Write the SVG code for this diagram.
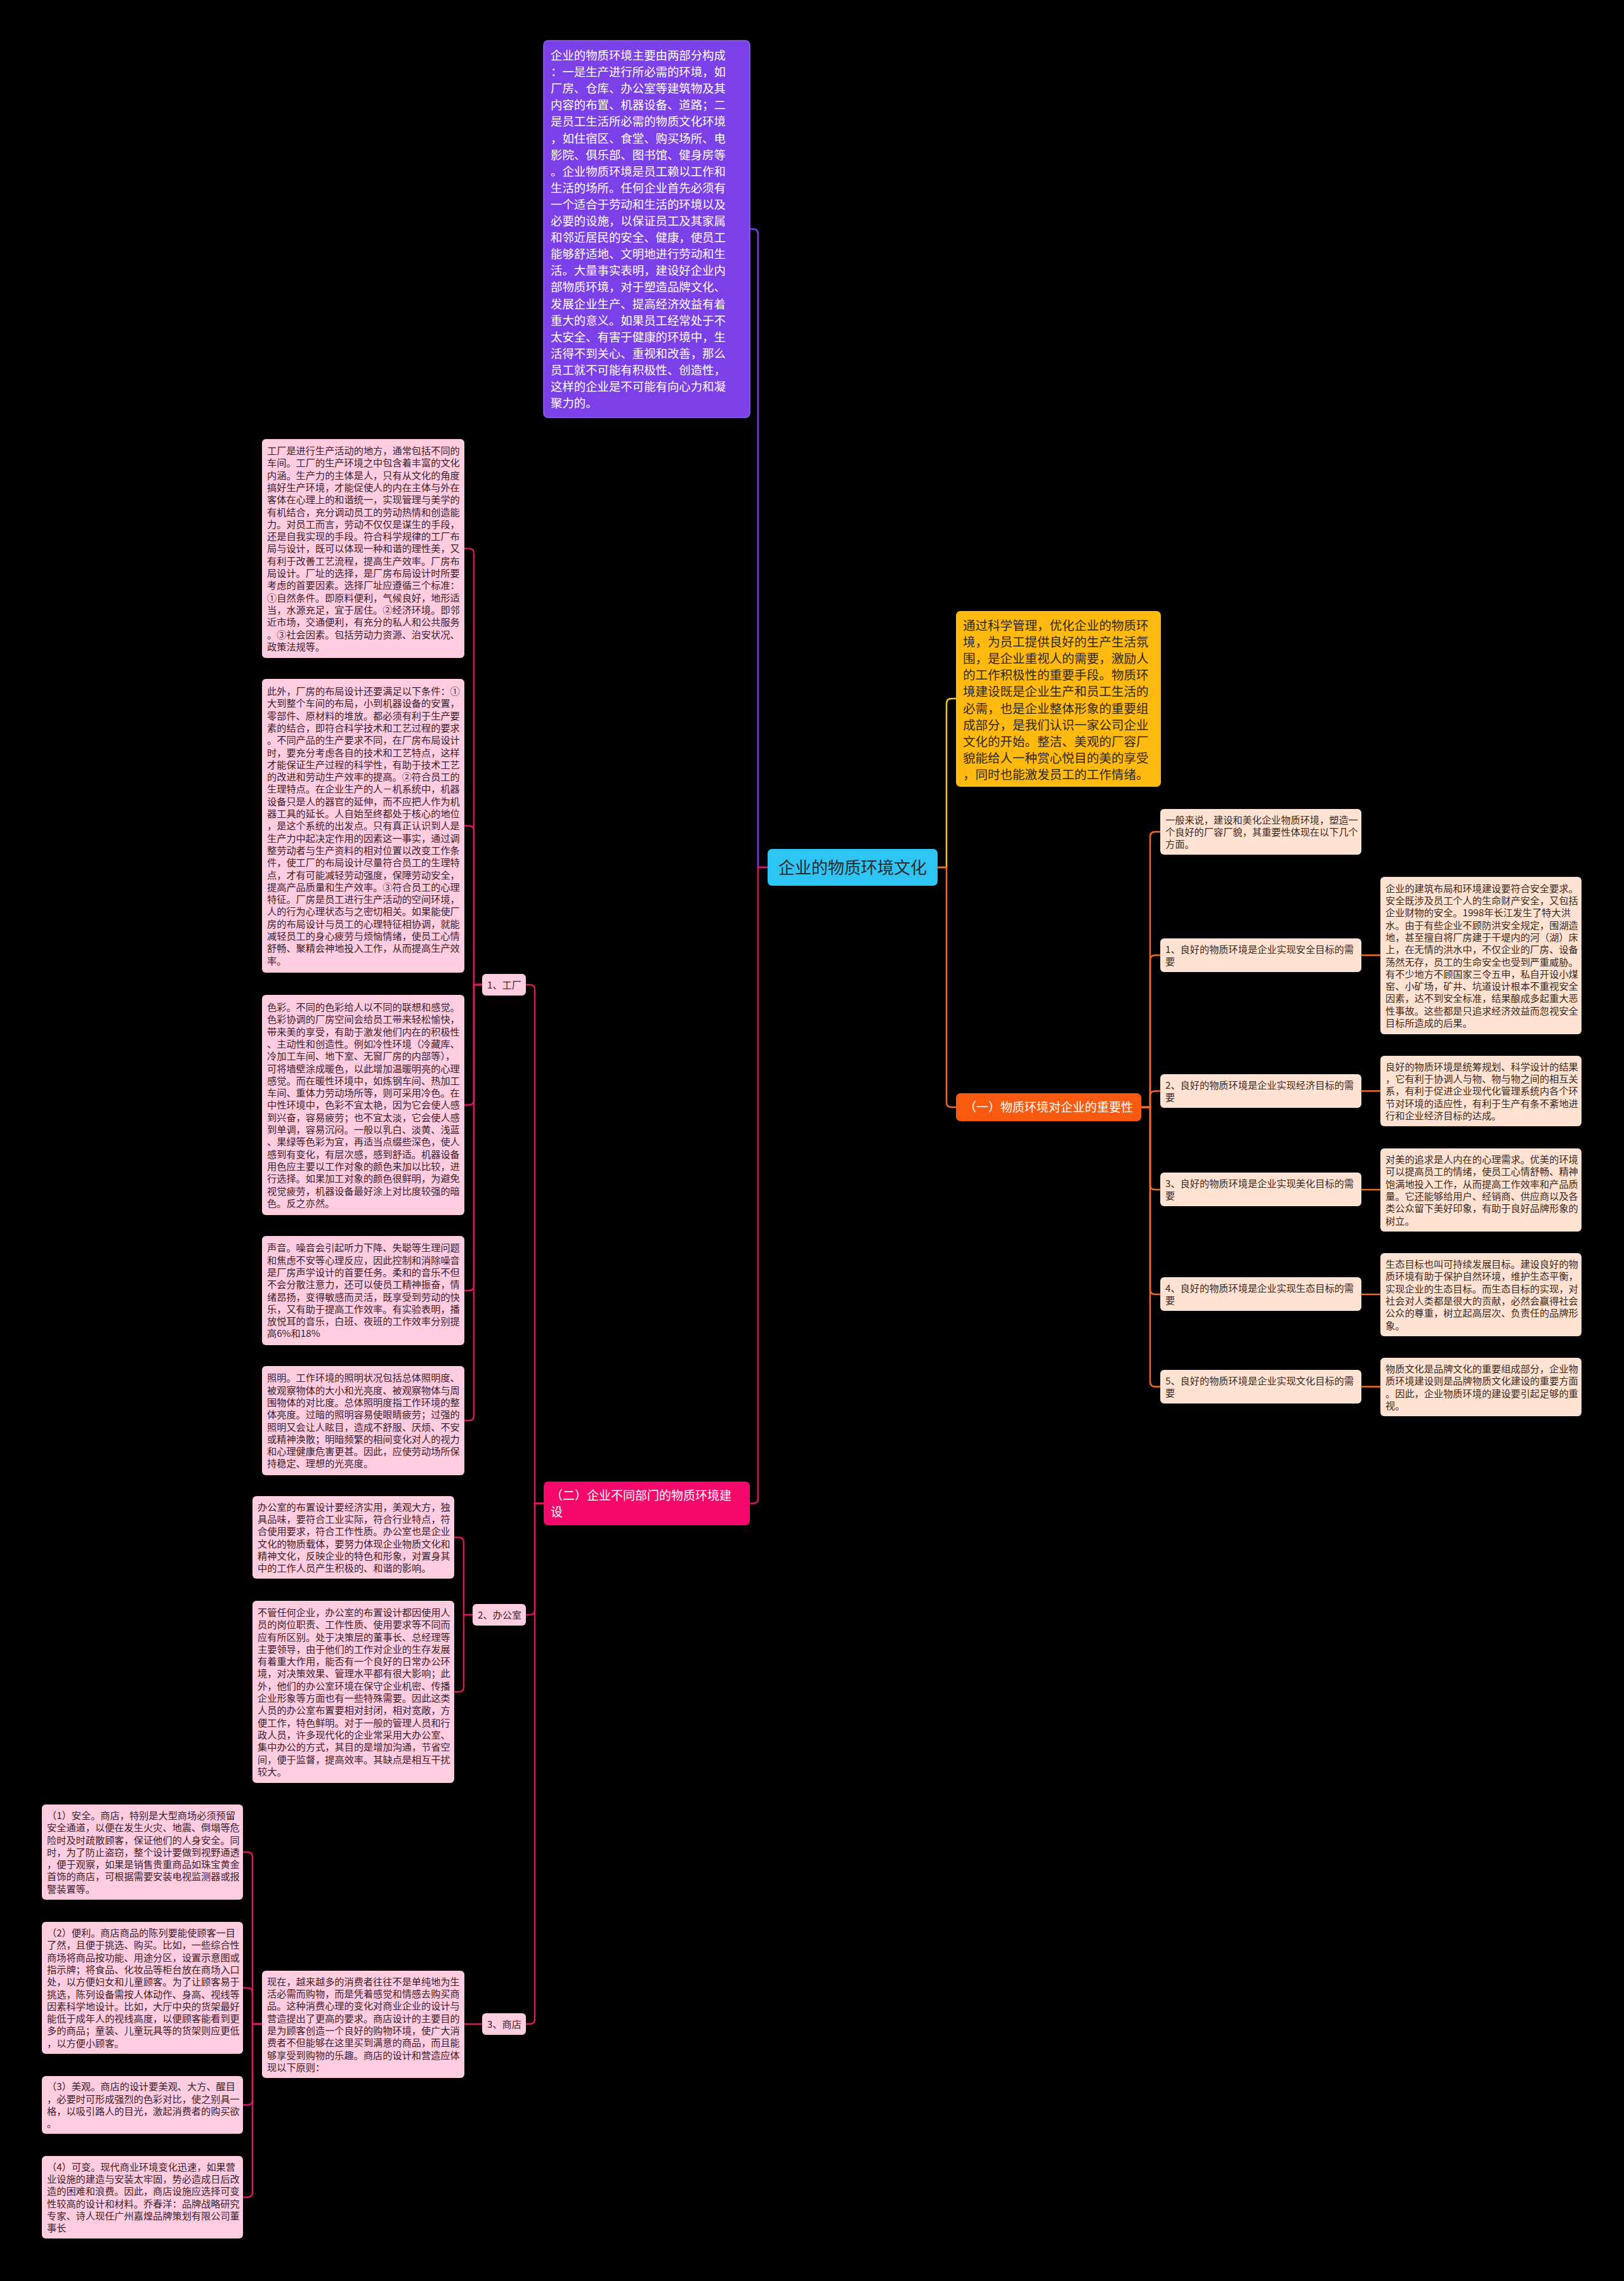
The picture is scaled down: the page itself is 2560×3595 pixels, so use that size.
<svg xmlns="http://www.w3.org/2000/svg" width="2560" height="3595" viewBox="0 0 2560 3595">
<style>
text{font-family:"Noto Sans CJK SC","Noto Sans",sans-serif;}
.c{fill:none;stroke-width:2.5;}
.cp{stroke:#7B40E8;}
.ck{stroke:#D6185F;}
.cy{stroke:#F2C232;}
.co{stroke:#F06A28;}
.lk{fill:#FFCCE0;}
.lo{fill:#FFE2D2;}
.tk{fill:#3A1E2B;font-size:15.2px;}
.to{fill:#3B2A20;font-size:15.2px;}
</style>
<rect x="0" y="0" width="2560" height="3595" fill="#000000"/>
<g id="connectors">
<path class="c cy" d="M1478,1367 H1492 V1109 Q1492,1101 1500,1101 H1507"/>
<path class="c co" d="M1478,1367 H1492 V1737 Q1492,1745 1500,1745 H1507"/>
<path class="c co" d="M1799,1745 H1813 V1319 Q1813,1311 1821,1311 H1829"/>
<path class="c co" d="M1799,1745 H1813 V1513.5 Q1813,1505.5 1821,1505.5 H1829"/>
<path class="c co" d="M1799,1745 H1813 V1727.5 Q1813,1719.5 1821,1719.5 H1829"/>
<path class="c co" d="M1799,1745 H1813 V1867 Q1813,1875 1821,1875 H1829"/>
<path class="c co" d="M1799,1745 H1813 V2032 Q1813,2040 1821,2040 H1829"/>
<path class="c co" d="M1799,1745 H1813 V2177.5 Q1813,2185.5 1821,2185.5 H1829"/>
<path class="c co" d="M2146,1505.5 H2176"/>
<path class="c co" d="M2146,1719.5 H2176"/>
<path class="c co" d="M2146,1875 H2176"/>
<path class="c co" d="M2146,2040 H2176"/>
<path class="c co" d="M2146,2185.5 H2176"/>
<path class="c cp" d="M1210,1367 H1195 V369 Q1195,361 1187,361 H1182"/>
<path class="c ck" d="M1210,1367 H1195 V2361.5 Q1195,2369.5 1187,2369.5 H1182"/>
<path class="c ck" d="M857,2369.5 H843 V1560 Q843,1552 835,1552 H829"/>
<path class="c ck" d="M857,2369.5 H843 V2537 Q843,2545 835,2545 H829"/>
<path class="c ck" d="M857,2369.5 H843 V3182 Q843,3190 835,3190 H829"/>
<path class="c ck" d="M760,1552 H747 V872.5 Q747,864.5 739,864.5 H732"/>
<path class="c ck" d="M760,1552 H747 V1309.5 Q747,1301.5 739,1301.5 H732"/>
<path class="c ck" d="M760,1552 H747 V1733.5 Q747,1741.5 739,1741.5 H732"/>
<path class="c ck" d="M760,1552 H747 V2026 Q747,2034 739,2034 H732"/>
<path class="c ck" d="M760,1552 H747 V2231 Q747,2239 739,2239 H732"/>
<path class="c ck" d="M745,2545 H731 V2431 Q731,2423 723,2423 H716"/>
<path class="c ck" d="M745,2545 H731 V2658.5 Q731,2666.5 723,2666.5 H716"/>
<path class="c ck" d="M760,3190 H732"/>
<path class="c ck" d="M413,3190 H398 V2927 Q398,2919 390,2919 H383"/>
<path class="c ck" d="M413,3190 H398 V3141 Q398,3133 390,3133 H383"/>
<path class="c ck" d="M413,3190 H398 V3309.5 Q398,3317.5 390,3317.5 H383"/>
<path class="c ck" d="M413,3190 H398 V3455 Q398,3463 390,3463 H383"/>
</g>
<g id="root">
<rect x="1210" y="1338" width="268" height="58" rx="7" fill="#2EC4F4"/>
<text x="1344" y="1377" font-size="26" fill="#2B2B2B" text-anchor="middle">企业的物质环境文化</text>
</g>
<g id="intro">
<rect x="857" y="64" width="325" height="594" rx="7" fill="#7B40E8" stroke="#9466F0" stroke-width="1.5"/>
<text x="868" y="94" font-size="18.4" fill="#FFFFFF"><tspan x="868">企业的物质环境主要由两部分构成</tspan><tspan x="868" dy="26.1">：一是生产进行所必需的环境，如</tspan><tspan x="868" dy="26.1">厂房、仓库、办公室等建筑物及其</tspan><tspan x="868" dy="26.1">内容的布置、机器设备、道路；二</tspan><tspan x="868" dy="26.1">是员工生活所必需的物质文化环境</tspan><tspan x="868" dy="26.1">，如住宿区、食堂、购买场所、电</tspan><tspan x="868" dy="26.1">影院、俱乐部、图书馆、健身房等</tspan><tspan x="868" dy="26.1">。企业物质环境是员工赖以工作和</tspan><tspan x="868" dy="26.1">生活的场所。任何企业首先必须有</tspan><tspan x="868" dy="26.1">一个适合于劳动和生活的环境以及</tspan><tspan x="868" dy="26.1">必要的设施，以保证员工及其家属</tspan><tspan x="868" dy="26.1">和邻近居民的安全、健康，使员工</tspan><tspan x="868" dy="26.1">能够舒适地、文明地进行劳动和生</tspan><tspan x="868" dy="26.1">活。大量事实表明，建设好企业内</tspan><tspan x="868" dy="26.1">部物质环境，对于塑造品牌文化、</tspan><tspan x="868" dy="26.1">发展企业生产、提高经济效益有着</tspan><tspan x="868" dy="26.1">重大的意义。如果员工经常处于不</tspan><tspan x="868" dy="26.1">太安全、有害于健康的环境中，生</tspan><tspan x="868" dy="26.1">活得不到关心、重视和改善，那么</tspan><tspan x="868" dy="26.1">员工就不可能有积极性、创造性，</tspan><tspan x="868" dy="26.1">这样的企业是不可能有向心力和凝</tspan><tspan x="868" dy="26.1">聚力的。</tspan></text>
</g>
<g id="summary">
<rect x="1507" y="963" width="323" height="277" rx="7" fill="#FFB90F"/>
<text x="1518" y="993" font-size="19.5" fill="#2E2A20"><tspan x="1518">通过科学管理，优化企业的物质环</tspan><tspan x="1518" dy="26.1">境，为员工提供良好的生产生活氛</tspan><tspan x="1518" dy="26.1">围，是企业重视人的需要，激励人</tspan><tspan x="1518" dy="26.1">的工作积极性的重要手段。物质环</tspan><tspan x="1518" dy="26.1">境建设既是企业生产和员工生活的</tspan><tspan x="1518" dy="26.1">必需，也是企业整体形象的重要组</tspan><tspan x="1518" dy="26.1">成部分，是我们认识一家公司企业</tspan><tspan x="1518" dy="26.1">文化的开始。整洁、美观的厂容厂</tspan><tspan x="1518" dy="26.1">貌能给人一种赏心悦目的美的享受</tspan><tspan x="1518" dy="26.1">，同时也能激发员工的工作情绪。</tspan></text>
</g>
<g id="branch1">
<rect x="1507" y="1723" width="292" height="44" rx="7" fill="#FA5A10"/>
<text x="1653" y="1752" font-size="19" fill="#FFFFFF" text-anchor="middle">（一）物质环境对企业的重要性</text>
</g>
<g id="b1-general">
<rect class="lo" x="1829" y="1275" width="317" height="72" rx="6"/>
<text class="to" x="1837" y="1297.5"><tspan x="1837">一般来说，建设和美化企业物质环境，塑造一</tspan><tspan x="1837" dy="19.3">个良好的厂容厂貌，其重要性体现在以下几个</tspan><tspan x="1837" dy="19.3">方面。</tspan></text>
</g>
<g id="b1-n1">
<rect class="lo" x="1829" y="1479" width="317" height="53" rx="6"/>
<text class="to" x="1837" y="1501.7"><tspan x="1837">1、良好的物质环境是企业实现安全目标的需</tspan><tspan x="1837" dy="19.3">要</tspan></text>
</g>
<g id="b1-r1">
<rect class="lo" x="2176" y="1382" width="317" height="248" rx="6"/>
<text class="to" x="2184" y="1405.7"><tspan x="2184">企业的建筑布局和环境建设要符合安全要求。</tspan><tspan x="2184" dy="19.3">安全既涉及员工个人的生命财产安全，又包括</tspan><tspan x="2184" dy="19.3">企业财物的安全。1998年长江发生了特大洪</tspan><tspan x="2184" dy="19.3">水。由于有些企业不顾防洪安全规定，围湖造</tspan><tspan x="2184" dy="19.3">地，甚至擅自将厂房建于干堤内的河（湖）床</tspan><tspan x="2184" dy="19.3">上，在无情的洪水中，不仅企业的厂房、设备</tspan><tspan x="2184" dy="19.3">荡然无存，员工的生命安全也受到严重威胁。</tspan><tspan x="2184" dy="19.3">有不少地方不顾国家三令五申，私自开设小煤</tspan><tspan x="2184" dy="19.3">窑、小矿场，矿井、坑道设计根本不重视安全</tspan><tspan x="2184" dy="19.3">因素，达不到安全标准，结果酿成多起重大恶</tspan><tspan x="2184" dy="19.3">性事故。这些都是只追求经济效益而忽视安全</tspan><tspan x="2184" dy="19.3">目标所造成的后果。</tspan></text>
</g>
<g id="b1-n2">
<rect class="lo" x="1829" y="1693" width="317" height="53" rx="6"/>
<text class="to" x="1837" y="1715.7"><tspan x="1837">2、良好的物质环境是企业实现经济目标的需</tspan><tspan x="1837" dy="19.3">要</tspan></text>
</g>
<g id="b1-r2">
<rect class="lo" x="2176" y="1664" width="317" height="111" rx="6"/>
<text class="to" x="2184" y="1686.7"><tspan x="2184">良好的物质环境是统筹规划、科学设计的结果</tspan><tspan x="2184" dy="19.3">，它有利于协调人与物、物与物之间的相互关</tspan><tspan x="2184" dy="19.3">系，有利于促进企业现代化管理系统内各个环</tspan><tspan x="2184" dy="19.3">节对环境的适应性，有利于生产有条不紊地进</tspan><tspan x="2184" dy="19.3">行和企业经济目标的达成。</tspan></text>
</g>
<g id="b1-n3">
<rect class="lo" x="1829" y="1848" width="317" height="53" rx="6"/>
<text class="to" x="1837" y="1870.7"><tspan x="1837">3、良好的物质环境是企业实现美化目标的需</tspan><tspan x="1837" dy="19.3">要</tspan></text>
</g>
<g id="b1-r3">
<rect class="lo" x="2176" y="1810" width="317" height="131" rx="6"/>
<text class="to" x="2184" y="1833.1"><tspan x="2184">对美的追求是人内在的心理需求。优美的环境</tspan><tspan x="2184" dy="19.3">可以提高员工的情绪，使员工心情舒畅、精神</tspan><tspan x="2184" dy="19.3">饱满地投入工作，从而提高工作效率和产品质</tspan><tspan x="2184" dy="19.3">量。它还能够给用户、经销商、供应商以及各</tspan><tspan x="2184" dy="19.3">类公众留下美好印象，有助于良好品牌形象的</tspan><tspan x="2184" dy="19.3">树立。</tspan></text>
</g>
<g id="b1-n4">
<rect class="lo" x="1829" y="2013" width="317" height="53" rx="6"/>
<text class="to" x="1837" y="2035.7"><tspan x="1837">4、良好的物质环境是企业实现生态目标的需</tspan><tspan x="1837" dy="19.3">要</tspan></text>
</g>
<g id="b1-r4">
<rect class="lo" x="2176" y="1975" width="317" height="131" rx="6"/>
<text class="to" x="2184" y="1998.1"><tspan x="2184">生态目标也叫可持续发展目标。建设良好的物</tspan><tspan x="2184" dy="19.3">质环境有助于保护自然环境，维护生态平衡，</tspan><tspan x="2184" dy="19.3">实现企业的生态目标。而生态目标的实现，对</tspan><tspan x="2184" dy="19.3">社会对人类都是很大的贡献，必然会赢得社会</tspan><tspan x="2184" dy="19.3">公众的尊重，树立起高层次、负责任的品牌形</tspan><tspan x="2184" dy="19.3">象。</tspan></text>
</g>
<g id="b1-n5">
<rect class="lo" x="1829" y="2159" width="317" height="53" rx="6"/>
<text class="to" x="1837" y="2181.7"><tspan x="1837">5、良好的物质环境是企业实现文化目标的需</tspan><tspan x="1837" dy="19.3">要</tspan></text>
</g>
<g id="b1-r5">
<rect class="lo" x="2176" y="2140" width="317" height="92" rx="6"/>
<text class="to" x="2184" y="2162.9"><tspan x="2184">物质文化是品牌文化的重要组成部分，企业物</tspan><tspan x="2184" dy="19.3">质环境建设则是品牌物质文化建设的重要方面</tspan><tspan x="2184" dy="19.3">。因此，企业物质环境的建设要引起足够的重</tspan><tspan x="2184" dy="19.3">视。</tspan></text>
</g>
<g id="branch2">
<rect x="857" y="2335" width="325" height="69" rx="7" fill="#F5076B"/>
<text x="868" y="2364.2" font-size="19" fill="#FFFFFF"><tspan x="868">（二）企业不同部门的物质环境建</tspan><tspan x="868" dy="25.5">设</tspan></text>
</g>
<g id="factory">
<rect class="lk" x="760" y="1535" width="69" height="34" rx="6"/>
<text class="tk" x="768" y="1557.8">1、工厂</text>
</g>
<g id="factory-1">
<rect class="lk" x="413" y="692" width="319" height="345" rx="6"/>
<text class="tk" x="421" y="716"><tspan x="421">工厂是进行生产活动的地方，通常包括不同的</tspan><tspan x="421" dy="19.3">车间。工厂的生产环境之中包含着丰富的文化</tspan><tspan x="421" dy="19.3">内涵。生产力的主体是人，只有从文化的角度</tspan><tspan x="421" dy="19.3">搞好生产环境，才能促使人的内在主体与外在</tspan><tspan x="421" dy="19.3">客体在心理上的和谐统一，实现管理与美学的</tspan><tspan x="421" dy="19.3">有机结合，充分调动员工的劳动热情和创造能</tspan><tspan x="421" dy="19.3">力。对员工而言，劳动不仅仅是谋生的手段，</tspan><tspan x="421" dy="19.3">还是自我实现的手段。符合科学规律的工厂布</tspan><tspan x="421" dy="19.3">局与设计，既可以体现一种和谐的理性美，又</tspan><tspan x="421" dy="19.3">有利于改善工艺流程，提高生产效率。厂房布</tspan><tspan x="421" dy="19.3">局设计。厂址的选择，是厂房布局设计时所要</tspan><tspan x="421" dy="19.3">考虑的首要因素。选择厂址应遵循三个标准：</tspan><tspan x="421" dy="19.3">①自然条件。即原料便利，气候良好，地形适</tspan><tspan x="421" dy="19.3">当，水源充足，宜于居住。②经济环境。即邻</tspan><tspan x="421" dy="19.3">近市场，交通便利，有充分的私人和公共服务</tspan><tspan x="421" dy="19.3">。③社会因素。包括劳动力资源、治安状况、</tspan><tspan x="421" dy="19.3">政策法规等。</tspan></text>
</g>
<g id="factory-2">
<rect class="lk" x="413" y="1070" width="319" height="463" rx="6"/>
<text class="tk" x="421" y="1095"><tspan x="421">此外，厂房的布局设计还要满足以下条件：①</tspan><tspan x="421" dy="19.3">大到整个车间的布局，小到机器设备的安置，</tspan><tspan x="421" dy="19.3">零部件、原材料的堆放。都必须有利于生产要</tspan><tspan x="421" dy="19.3">素的结合，即符合科学技术和工艺过程的要求</tspan><tspan x="421" dy="19.3">。不同产品的生产要求不同，在厂房布局设计</tspan><tspan x="421" dy="19.3">时，要充分考虑各自的技术和工艺特点，这样</tspan><tspan x="421" dy="19.3">才能保证生产过程的科学性，有助于技术工艺</tspan><tspan x="421" dy="19.3">的改进和劳动生产效率的提高。②符合员工的</tspan><tspan x="421" dy="19.3">生理特点。在企业生产的人－机系统中，机器</tspan><tspan x="421" dy="19.3">设备只是人的器官的延伸，而不应把人作为机</tspan><tspan x="421" dy="19.3">器工具的延长。人自始至终都处于核心的地位</tspan><tspan x="421" dy="19.3">，是这个系统的出发点。只有真正认识到人是</tspan><tspan x="421" dy="19.3">生产力中起决定作用的因素这一事实，通过调</tspan><tspan x="421" dy="19.3">整劳动者与生产资料的相对位置以改变工作条</tspan><tspan x="421" dy="19.3">件，使工厂的布局设计尽量符合员工的生理特</tspan><tspan x="421" dy="19.3">点，才有可能减轻劳动强度，保障劳动安全，</tspan><tspan x="421" dy="19.3">提高产品质量和生产效率。③符合员工的心理</tspan><tspan x="421" dy="19.3">特征。厂房是员工进行生产活动的空间环境，</tspan><tspan x="421" dy="19.3">人的行为心理状态与之密切相关。如果能使厂</tspan><tspan x="421" dy="19.3">房的布局设计与员工的心理特征相协调，就能</tspan><tspan x="421" dy="19.3">减轻员工的身心疲劳与烦恼情绪，使员工心情</tspan><tspan x="421" dy="19.3">舒畅、聚精会神地投入工作，从而提高生产效</tspan><tspan x="421" dy="19.3">率。</tspan></text>
</g>
<g id="factory-3">
<rect class="lk" x="413" y="1568" width="319" height="347" rx="6"/>
<text class="tk" x="421" y="1593"><tspan x="421">色彩。不同的色彩给人以不同的联想和感觉。</tspan><tspan x="421" dy="19.3">色彩协调的厂房空间会给员工带来轻松愉快，</tspan><tspan x="421" dy="19.3">带来美的享受，有助于激发他们内在的积极性</tspan><tspan x="421" dy="19.3">、主动性和创造性。例如冷性环境（冷藏库、</tspan><tspan x="421" dy="19.3">冷加工车间、地下室、无窗厂房的内部等），</tspan><tspan x="421" dy="19.3">可将墙壁涂成暖色，以此增加温暖明亮的心理</tspan><tspan x="421" dy="19.3">感觉。而在暖性环境中，如炼钢车间、热加工</tspan><tspan x="421" dy="19.3">车间、重体力劳动场所等，则可采用冷色。在</tspan><tspan x="421" dy="19.3">中性环境中，色彩不宜太艳，因为它会使人感</tspan><tspan x="421" dy="19.3">到兴奋，容易疲劳；也不宜太淡，它会使人感</tspan><tspan x="421" dy="19.3">到单调，容易沉闷。一般以乳白、淡黄、浅蓝</tspan><tspan x="421" dy="19.3">、果绿等色彩为宜，再适当点缀些深色，使人</tspan><tspan x="421" dy="19.3">感到有变化，有层次感，感到舒适。机器设备</tspan><tspan x="421" dy="19.3">用色应主要以工作对象的颜色来加以比较，进</tspan><tspan x="421" dy="19.3">行选择。如果加工对象的颜色很鲜明，为避免</tspan><tspan x="421" dy="19.3">视觉疲劳，机器设备最好涂上对比度较强的暗</tspan><tspan x="421" dy="19.3">色。反之亦然。</tspan></text>
</g>
<g id="factory-4">
<rect class="lk" x="413" y="1948" width="319" height="172" rx="6"/>
<text class="tk" x="421" y="1972.3"><tspan x="421">声音。噪音会引起听力下降、失聪等生理问题</tspan><tspan x="421" dy="19.3">和焦虑不安等心理反应，因此控制和消除噪音</tspan><tspan x="421" dy="19.3">是厂房声学设计的首要任务。柔和的音乐不但</tspan><tspan x="421" dy="19.3">不会分散注意力，还可以使员工精神振奋，情</tspan><tspan x="421" dy="19.3">绪昂扬，变得敏感而灵活，既享受到劳动的快</tspan><tspan x="421" dy="19.3">乐，又有助于提高工作效率。有实验表明，播</tspan><tspan x="421" dy="19.3">放悦耳的音乐，白班、夜班的工作效率分别提</tspan><tspan x="421" dy="19.3">高6%和18%</tspan></text>
</g>
<g id="factory-5">
<rect class="lk" x="413" y="2153" width="319" height="172" rx="6"/>
<text class="tk" x="421" y="2177.3"><tspan x="421">照明。工作环境的照明状况包括总体照明度、</tspan><tspan x="421" dy="19.3">被观察物体的大小和光亮度、被观察物体与周</tspan><tspan x="421" dy="19.3">围物体的对比度。总体照明度指工作环境的整</tspan><tspan x="421" dy="19.3">体亮度。过暗的照明容易使眼睛疲劳；过强的</tspan><tspan x="421" dy="19.3">照明又会让人眩目，造成不舒服、厌烦、不安</tspan><tspan x="421" dy="19.3">或精神涣散；明暗频繁的相间变化对人的视力</tspan><tspan x="421" dy="19.3">和心理健康危害更甚。因此，应使劳动场所保</tspan><tspan x="421" dy="19.3">持稳定、理想的光亮度。</tspan></text>
</g>
<g id="office">
<rect class="lk" x="745" y="2528" width="84" height="34" rx="6"/>
<text class="tk" x="753" y="2550.8">2、办公室</text>
</g>
<g id="office-1">
<rect class="lk" x="398" y="2358" width="318" height="130" rx="6"/>
<text class="tk" x="406" y="2380.6"><tspan x="406">办公室的布置设计要经济实用，美观大方，独</tspan><tspan x="406" dy="19.3">具品味，要符合工业实际，符合行业特点，符</tspan><tspan x="406" dy="19.3">合使用要求，符合工作性质。办公室也是企业</tspan><tspan x="406" dy="19.3">文化的物质载体，要努力体现企业物质文化和</tspan><tspan x="406" dy="19.3">精神文化，反映企业的特色和形象，对置身其</tspan><tspan x="406" dy="19.3">中的工作人员产生积极的、和谐的影响。</tspan></text>
</g>
<g id="office-2">
<rect class="lk" x="398" y="2523" width="318" height="287" rx="6"/>
<text class="tk" x="406" y="2546.9"><tspan x="406">不管任何企业，办公室的布置设计都因使用人</tspan><tspan x="406" dy="19.3">员的岗位职责、工作性质、使用要求等不同而</tspan><tspan x="406" dy="19.3">应有所区别。处于决策层的董事长、总经理等</tspan><tspan x="406" dy="19.3">主要领导，由于他们的工作对企业的生存发展</tspan><tspan x="406" dy="19.3">有着重大作用，能否有一个良好的日常办公环</tspan><tspan x="406" dy="19.3">境，对决策效果、管理水平都有很大影响；此</tspan><tspan x="406" dy="19.3">外，他们的办公室环境在保守企业机密、传播</tspan><tspan x="406" dy="19.3">企业形象等方面也有一些特殊需要。因此这类</tspan><tspan x="406" dy="19.3">人员的办公室布置要相对封闭，相对宽敞，方</tspan><tspan x="406" dy="19.3">便工作，特色鲜明。对于一般的管理人员和行</tspan><tspan x="406" dy="19.3">政人员，许多现代化的企业常采用大办公室、</tspan><tspan x="406" dy="19.3">集中办公的方式，其目的是增加沟通，节省空</tspan><tspan x="406" dy="19.3">间，便于监督，提高效率。其缺点是相互干扰</tspan><tspan x="406" dy="19.3">较大。</tspan></text>
</g>
<g id="shop">
<rect class="lk" x="760" y="3173" width="69" height="34" rx="6"/>
<text class="tk" x="768" y="3195.8">3、商店</text>
</g>
<g id="shop-main">
<rect class="lk" x="413" y="3106" width="319" height="169" rx="6"/>
<text class="tk" x="421" y="3128.8"><tspan x="421">现在，越来越多的消费者往往不是单纯地为生</tspan><tspan x="421" dy="19.3">活必需而购物，而是凭着感觉和情感去购买商</tspan><tspan x="421" dy="19.3">品。这种消费心理的变化对商业企业的设计与</tspan><tspan x="421" dy="19.3">营造提出了更高的要求。商店设计的主要目的</tspan><tspan x="421" dy="19.3">是为顾客创造一个良好的购物环境，使广大消</tspan><tspan x="421" dy="19.3">费者不但能够在这里买到满意的商品，而且能</tspan><tspan x="421" dy="19.3">够享受到购物的乐趣。商店的设计和营造应体</tspan><tspan x="421" dy="19.3">现以下原则：</tspan></text>
</g>
<g id="shop-1">
<rect class="lk" x="66" y="2844" width="317" height="150" rx="6"/>
<text class="tk" x="74" y="2866.9"><tspan x="74">（1）安全。商店，特别是大型商场必须预留</tspan><tspan x="74" dy="19.3">安全通道，以便在发生火灾、地震、倒塌等危</tspan><tspan x="74" dy="19.3">险时及时疏散顾客，保证他们的人身安全。同</tspan><tspan x="74" dy="19.3">时，为了防止盗窃，整个设计要做到视野通透</tspan><tspan x="74" dy="19.3">，便于观察，如果是销售贵重商品如珠宝黄金</tspan><tspan x="74" dy="19.3">首饰的商店，可根据需要安装电视监测器或报</tspan><tspan x="74" dy="19.3">警装置等。</tspan></text>
</g>
<g id="shop-2">
<rect class="lk" x="66" y="3029" width="317" height="208" rx="6"/>
<text class="tk" x="74" y="3052"><tspan x="74">（2）便利。商店商品的陈列要能使顾客一目</tspan><tspan x="74" dy="19.3">了然，且便于挑选、购买。比如，一些综合性</tspan><tspan x="74" dy="19.3">商场将商品按功能、用途分区，设置示意图或</tspan><tspan x="74" dy="19.3">指示牌；将食品、化妆品等柜台放在商场入口</tspan><tspan x="74" dy="19.3">处，以方便妇女和儿童顾客。为了让顾客易于</tspan><tspan x="74" dy="19.3">挑选，陈列设备需按人体动作、身高、视线等</tspan><tspan x="74" dy="19.3">因素科学地设计。比如，大厅中央的货架最好</tspan><tspan x="74" dy="19.3">能低于成年人的视线高度，以便顾客能看到更</tspan><tspan x="74" dy="19.3">多的商品；童装、儿童玩具等的货架则应更低</tspan><tspan x="74" dy="19.3">，以方便小顾客。</tspan></text>
</g>
<g id="shop-3">
<rect class="lk" x="66" y="3272" width="317" height="91" rx="6"/>
<text class="tk" x="74" y="3294.4"><tspan x="74">（3）美观。商店的设计要美观、大方、醒目</tspan><tspan x="74" dy="19.3">，必要时可形成强烈的色彩对比，使之别具一</tspan><tspan x="74" dy="19.3">格，以吸引路人的目光，激起消费者的购买欲</tspan><tspan x="74" dy="19.3">。</tspan></text>
</g>
<g id="shop-4">
<rect class="lk" x="66" y="3398" width="317" height="130" rx="6"/>
<text class="tk" x="74" y="3420.6"><tspan x="74">（4）可变。现代商业环境变化迅速，如果营</tspan><tspan x="74" dy="19.3">业设施的建造与安装太牢固，势必造成日后改</tspan><tspan x="74" dy="19.3">造的困难和浪费。因此，商店设施应选择可变</tspan><tspan x="74" dy="19.3">性较高的设计和材料。乔春洋：品牌战略研究</tspan><tspan x="74" dy="19.3">专家、诗人现任广州嘉煌品牌策划有限公司董</tspan><tspan x="74" dy="19.3">事长</tspan></text>
</g>
</svg>
